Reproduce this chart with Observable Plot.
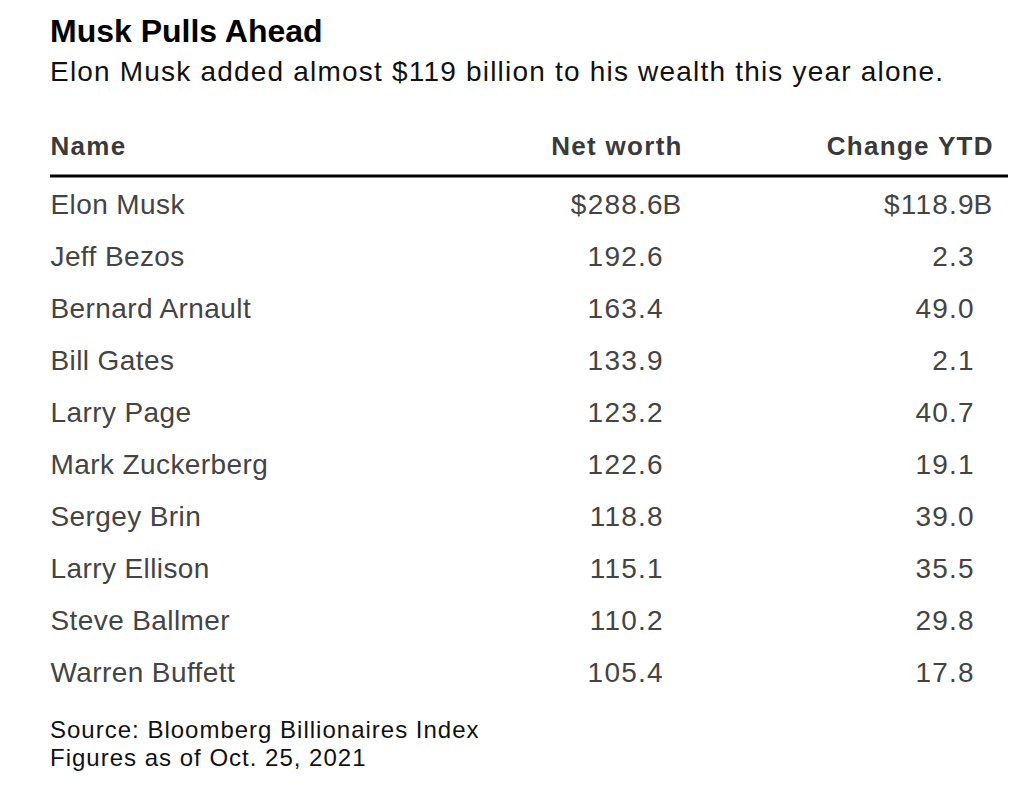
<!DOCTYPE html>
<html>
<head>
<meta charset="utf-8">
<script src="https://cdn.jsdelivr.net/npm/d3@7"></script>
<script src="https://cdn.jsdelivr.net/npm/@observablehq/plot@0.6"></script>
<style>
  html, body { margin: 0; padding: 0; background: #fff; }
  body { width: 1024px; height: 789px; position: relative; overflow: hidden; font-family: "Liberation Sans", Arial, sans-serif; }
  #title { position: absolute; left: 50px; top: 13px; font-size: 32px; font-weight: bold; color: #000; white-space: nowrap; }
  #subtitle { position: absolute; left: 50px; top: 56px; font-size: 28px; letter-spacing: 1.2px; color: #111; white-space: nowrap; }
  #chart { position: absolute; left: 0; top: 110px; height: 595px; }
  #chart svg { display: block; }
  .cap { position: absolute; left: 50px; font-size: 24px; line-height: 28px; letter-spacing: 1px; color: #111; white-space: nowrap; }
</style>
</head>
<body>
<div id="title">Musk Pulls Ahead</div>
<div id="subtitle">Elon Musk added almost $119 billion to his wealth this year alone.</div>
<div id="chart"></div>
<div class="cap" style="top: 716px;">Source: Bloomberg Billionaires Index</div>
<div class="cap" style="top: 744px;">Figures as of Oct. 25, 2021</div>
<script>
const columns = ["Name", "Net worth", "Change YTD"];
const names = ["Elon Musk", "Jeff Bezos", "Bernard Arnault", "Bill Gates", "Larry Page",
  "Mark Zuckerberg", "Sergey Brin", "Larry Ellison", "Steve Ballmer", "Warren Buffett"];
const netWorth = [288.6, 192.6, 163.4, 133.9, 123.2, 122.6, 118.8, 115.1, 110.2, 105.4];
const changeYTD = [118.9, 2.3, 49.0, 2.1, 40.7, 19.1, 39.0, 35.5, 29.8, 17.8];

// column layout (left edge for names, right edge for header / value columns)
const colX = {"Name": 50, "Net worth": 681, "Change YTD": 992};

const rows = names.map((n, i) => ({name: n, net: netWorth[i], chg: changeYTD[i], first: i === 0}));
const fmt = (v, first) => (first ? "$" : "") + v.toFixed(1);

const font = "Liberation Sans, Arial, sans-serif";
const rowColor = "#444";
const headColor = "#3a3a3a";
const fs = 28;
const hang = 19; // width of the trailing "B"

const plot = Plot.plot({
  width: 1024,
  height: 595,
  marginLeft: 50,
  marginRight: 16,
  marginTop: 0,
  marginBottom: 0,
  style: {fontFamily: font, background: "#fff"},
  x: {type: "identity"},
  y: {type: "point", domain: names, range: [93.3, 564.3], padding: 0, axis: null},
  marks: [
    // header row
    Plot.text(columns.slice(0, 1), {x: d => colX[d], frameAnchor: "top", lineAnchor: "middle", dy: 36,
      textAnchor: "start", text: d => d, fontSize: 26, fontWeight: "bold", fill: headColor}),
    Plot.text(columns.slice(1), {x: d => colX[d], frameAnchor: "top", lineAnchor: "middle", dy: 36,
      textAnchor: "end", dx: 1.3, text: d => d, fontSize: 26, fontWeight: "bold", fill: headColor}),
    // rule under header
    Plot.ruleY([names[0]], {y: d => d, dy: -29.5, stroke: "#000", strokeWidth: 3}),
    // names
    Plot.text(rows, {x: () => colX["Name"], y: "name", text: "name", textAnchor: "start",
      fontSize: fs, fill: rowColor}),
    // net worth values (decimal-aligned; the "B" hangs to the right)
    Plot.text(rows, {x: () => colX["Net worth"], y: "name", text: d => fmt(d.net, d.first),
      textAnchor: "end", dx: -hang + 1.2, fontSize: fs, fill: rowColor}),
    Plot.text(rows.filter(d => d.first), {x: () => colX["Net worth"], y: "name", text: () => "B",
      textAnchor: "start", dx: -hang, fontSize: fs, fill: rowColor}),
    // change YTD values
    Plot.text(rows, {x: () => colX["Change YTD"], y: "name", text: d => fmt(d.chg, d.first),
      textAnchor: "end", dx: -hang + 1.2, fontSize: fs, fill: rowColor}),
    Plot.text(rows.filter(d => d.first), {x: () => colX["Change YTD"], y: "name", text: () => "B",
      textAnchor: "start", dx: -hang, fontSize: fs, fill: rowColor})
  ]
});

// letter spacing to approximate the wider original typeface
d3.select(plot).selectAll("text").each(function() {
  const t = this.textContent;
  let ls = null;
  if (columns.includes(t)) ls = "1.3px";
  else if (names.includes(t)) ls = "0.4px";
  else if (t !== "B") ls = "1.2px";
  if (ls) this.style.letterSpacing = ls;
});
document.getElementById("chart").appendChild(plot);
</script>
</body>
</html>
